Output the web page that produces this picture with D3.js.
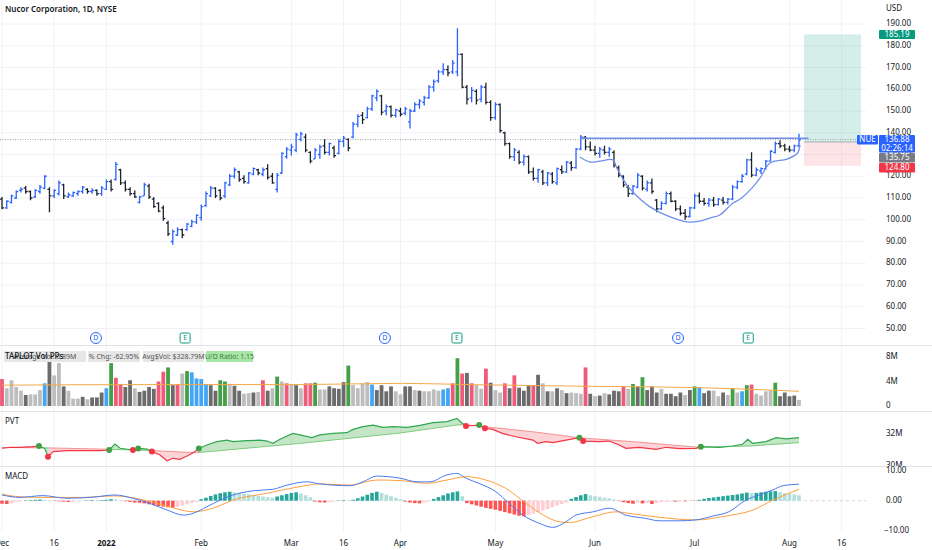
<!DOCTYPE html>
<html>
<head>
<meta charset="utf-8">
<script src="https://cdn.jsdelivr.net/npm/d3@7"></script>
<style>
body { margin: 0; background: #fff; }
text { font-family: "Noto Sans", sans-serif; fill: #131722; }
</style>
</head>
<body>
<svg id="chart" width="932" height="550"></svg>
<script>
// daily OHLC, Dec 1 2021 .. Aug 3 2022 (trading days)
const openP = [109.5,105.5,108,110,113.5,114.5,113,110.5,113,114.5, 114,111,112,116,110.5,111,112,113,114,113,
  113.5,112,114,117.5,118.5,123,117,114,112,108, 111,115.5,109.5,107.5,105.5,98.5,90,93,95.5,95.5,
  97,99,101,106.5,111,114.5,113.5,111,116,120, 122,119,117,121,123,121,123.5,120,114,121.5,
  129,132,132,137,138,131,128,130,134,131, 133,130.5,136,137,138,144,148,147,151,156,
  157,150,152,148,150,149,145,150,153,154, 156,161,164,168,169,168,168,176,161,156,
  159,155.5,161,154,147,153,140,135,129,131, 126.5,129,122,119,122,117,121,117,123,122,
  126,124,132.5,138,133.5,132,130.5,132,131,131, 124,120,115,112,115,120,114,117,109,105,
  107.5,112,108.5,105,103,101.5,105.5,111,108.5,107.5, 109,107,109,108,109.5,115,117.5,121,127.5,120.5,
  122.5,123.5,127,131,135,134,132.5,132,134];
const highP = [110.5,109,111.5,113.5,115,115.5,113.5,114,116,120.5, 115,114,118,116.5,112.5,113,113.5,115.5,114.5,114.5,
  114,115.5,118.5,118.5,126.5,123.5,118,115,113.5,111, 117,116.5,110.5,108,106.5,99.5,95.5,96.5,96,98.5,
  100,102.5,107,113,115.5,115,114,117.5,121,124, 122.5,120.5,122,124,123.5,124,125.5,121.5,121.5,131,
  133.5,135,140,140.5,139.5,131.5,133,134.5,137,135.5, 134,137,138.5,137.5,145,148.5,149.5,152,157.5,160,
  157.5,153,152.5,151,151.5,152,151,154,155.5,157, 162,164.5,169,172,171,173.5,188,176.5,162,161,
  160,162,163,155,154,153.5,140.5,135.5,133,132, 130,129.5,124,123.5,123,122,122,124,125,127,
  127,133,139,138.5,136,134,133.5,134,133.5,132, 125,120.5,116,116,121.5,120.5,118,119,109.5,108.5,
  113,113,109,106.5,105,106,112,112.5,110,110, 110.5,110,110.5,110,116,118,121,128,131,124,
  124,127.5,132,136,136.5,135,134,134.5,139.5];
const lowP = [104.8,105,107.5,109.5,112.5,112,109,110,112,114, 103.5,110,111,109.5,110,110.5,111,112,112,112,
  111,111,113.7,113,118,116,113,111,110,107.5, 111,109.5,105.5,103.5,99.5,92.5,88.5,92.5,91.5,95,
  96.5,98,99.5,106,110.5,110,109,110,115.5,119, 117.5,116.5,116.5,120.5,120.5,120,118.5,116.5,112.5,121,
  128,129.5,131,136,131,126,128,128,130,129.5, 128.5,130,133.5,131.5,137.5,142.5,144,146.5,150,154.5,
  148,148,147,147,147.5,148,142,149.5,151,152.5, 155.5,159,163,166.5,166,167,166,160.5,153,154,
  153,154,153,145.5,146,140,134,128,127,125.5, 125,121,118,117,116,115.5,116.5,116,121,121.5,
  122.5,123.5,132,132,131.5,129.5,128.5,130,129,124, 119.5,115,110.5,111.5,114.5,113.5,113,112,103.5,104.5,
  107,108,104,102,100,101,105,107.5,106.5,106, 106,106.5,107,107,109,114,117,120.5,119.5,120,
  121,123,127,130.5,133,131.5,131,131,133.5];
const closeP = [105.5,108.5,111,113,114,113,110,113.5,115,120, 111,113.5,117,111,111.5,112.5,113,115,113,113.5,
  112,114.5,117.5,114,125.5,117,114,112,110.5,110.5, 116,110.5,106,104,100.5,93.5,94.5,95.5,93,98,
  99,102,106,112,114.5,111,110,117,120,123, 118.5,117.5,121.5,123.5,121.5,123,119.5,117,120.5,130.5,
  132.5,133.5,139,139.5,132,127,132,133.5,131,135, 129.5,136,137.5,133,144,147.5,146,151,157,159,
  149.5,152,148,150.5,148.5,151,150,153,154.5,156, 161,163.5,168,169,167.5,172,176,161,155.5,159.5,
  155,161,154,147,153,141,135,129,132,126.5, 129,122,119,123,117,121.5,117.5,123.5,122,126.5,
  124,132.5,138,133.5,132,130.5,132.5,131,132.5,125, 120.5,116,112,115.5,120.5,114.5,117,113,105,107.5,
  112,108.5,105,103,101.5,105.5,111,108.5,107.5,109, 107,109.5,108,109.5,115,117.5,120,127.5,120.5,123,
  123.5,127,131.5,135,134,132.5,132,134,136.88];

// volume in millions and TAPLOT colour class per bar
const volume = [4.4,2.9,4.2,3.1,2.5,1.8,1.9,1.9,2.6,3.7, 8.0,5.0,7.0,3.2,2.5,1.2,1.2,1.5,1.1,1.4,
  1.4,2.2,2.9,7.0,4.6,3.6,3.1,4.2,2.9,2.3, 2.5,3.1,2.8,4.0,5.6,6.3,3.4,3.6,5.3,5.7,
  5.5,4.5,4.4,3.6,3.4,2.5,4.2,4.0,3.6,3.3, 2.5,2.0,2.1,2.2,2.3,4.2,2.5,2.9,4.8,4.0,
  3.7,3.6,3.4,2.9,3.7,3.7,3.8,2.7,2.7,3.2, 2.9,2.8,3.9,6.6,3.4,2.9,3.7,3.9,3.5,2.6,
  3.4,2.4,3.2,2.4,1.9,3.2,3.2,2.6,2.5,2.4, 2.4,2.7,2.5,2.7,2.9,3.7,7.8,5.3,5.4,3.7,
  3.4,2.8,6.1,3.8,2.6,2.2,3.7,2.9,5.0,3.0, 2.5,3.4,3.4,5.1,3.7,2.4,2.4,2.9,2.6,2.1,
  2.2,2.1,2.0,6.3,2.0,1.6,1.7,2.1,1.9,2.5, 2.4,3.2,2.8,3.6,3.2,4.7,2.6,3.2,2.2,2.8,
  2.0,2.0,1.6,2.2,1.8,2.6,3.2,3.0,2.1,2.5, 2.5,1.6,2.2,1.8,2.9,2.2,2.4,3.4,3.5,2.0,
  1.7,2.4,2.5,3.8,1.6,2.2,1.6,1.7,1.0];
const volClass = "rlllldlllb" + "dlldllldld" + "ddbgrrddld" + "dddrrgdrlg" + "bbbbddggld" + "dlldlrdlgl" + "rld" +
  "lrrglldddd" + "gllllbdddd" + "llddldllll" + "bbrgr" +
  "drllrdllrd" + "rdddrdldld" + "ldlllrdldl" + "dddrlgdgdd" + "dlddddldgb" + "ddlldlglbg" + "rllllgdddd" + "l";
const volAvgIdx = [0, 30, 63, 84, 98, 126, 147, 168];
const volAvgVal = [3.4, 3.5, 3.5, 3.7, 3.5, 3.2, 3.0, 2.4];

// PVT (millions) and its signal, read at points along the line
const pvtIdx = [0,1.7,3.8,6.5,7.8,9,9.7,10.8,13.7,17,20.7,22.6,23.8,24.9,27.6,28.7,30.6,31.6,33.3,34.8,
  36,37.5,39,40.3,41.5,43.2,45.3,47.4,48.7,51.6,54.4,55.9,57.1,58.6,61.3,62.8,65.3,67,69.8,72.7,
  74,76.1,78.2,80.3,82.4,85.4,88.1,90.9,93.8,95.9,97,97.8,100.6,101.8,103.4,105.5,108.3,111.9,112.9,114.7,
  116.1,118.9,121.7,122.5,125.9,128,130.1,131.5,134.3,137.9,140,142.8,146.3,147.3,151.2,154,156.1,157.2,158.2,161,
  163.2,165.3,168];
const pvtVal = [31.11,31.17,31.17,31.21,31.25,31.1,30.58,30.9,30.96,30.96,30.96,31.0,31.37,31.11,31.0,31.1,31.06,30.9,30.69,30.33,
  30.48,30.42,30.63,30.83,31.1,31.31,31.52,31.62,31.52,31.58,31.62,31.56,31.42,31.67,32.04,31.94,31.77,31.94,32.04,32.08,
  32.29,32.46,32.56,32.42,32.46,32.42,32.54,32.71,32.77,32.98,32.67,32.5,32.56,32.36,32.29,32.04,31.83,31.62,31.42,31.52,
  31.46,31.62,31.77,31.56,31.52,31.56,31.31,31.1,31.17,31.04,31.17,31.08,31.1,31.21,31.17,31.25,31.36,31.67,31.42,31.52,
  31.77,31.69,31.77];
const pvtSigIdx = [0,10.1,20.7,31.2,41.1,62.8,83.9,95.9,97.8,111.9,121.6,133,146.9,157.7,168];
const pvtSigVal = [31.16,31.13,31.06,30.97,30.83,31.41,32.06,32.56,32.58,32.14,31.77,31.52,31.17,31.25,31.46];
const pvtDotIdx = [7.8,9.7,22.6,27.6,28.7,31.6,41.5,97.8,100.6,101.8,121.7,122.5,147.3];
const pvtDotCol = ["g","r","g","r","g","r","g","r","g","r","g","r","g"];

// MACD
const macdIdx = [0,3.8,8.6,13.7,19.2,23.8,27.6,31.2,34.8,38.2,40.3,43.2,46,48.7,52.9,57.1,60.1,64.3,67,73.4,
  76.1,79,83.9,87.5,90.2,93.8,95.9,97.8,100.5,104.1,106.9,109.8,113.2,116.1,118.9,121,124.6,128,131.5,135.7,
  138.5,142.7,146.3,149.9,153.2,156.8,159.6,162.5,164.6,168];
const macdVal = [1.9,1.1,1.7,0.8,1.2,1.9,0.8,-0.9,-3.1,-4.8,-4.2,-2.0,0.2,1.9,3.3,3.8,5.2,6.3,5.6,5.0,
  6.3,8.2,7.5,6.3,6.3,8.6,9.1,7.5,5.8,3.0,-0.9,-4.8,-7.5,-8.9,-7.0,-4.8,-3.7,-2.5,-4.8,-5.9,
  -6.7,-6.7,-6.4,-5.1,-3.7,0.2,1.9,3.6,5.0,5.5];
const signalIdx = [0,3.8,10.1,17.1,23.8,29.1,34.8,40.3,44.5,48.7,55.9,62.8,67,73.4,79,83.9,89.6,93.8,97.8,102,
  106.2,110.5,114.1,117.4,119.5,124.6,129.4,133,138.5,146.3,152.6,158.3,162.5,168];
const signalVal = [2.2,1.3,1.1,1.1,1.6,0.5,-1.8,-3.7,-2.5,0.2,2.5,4.7,5.6,5.2,6.9,6.7,5.8,6.9,8.0,6.9,
  4.1,-0.9,-4.8,-7.0,-7.3,-5.3,-3.7,-4.4,-5.5,-6.4,-5.1,-3.1,0.2,3.8];
const macdHist = [-1.0,-1.1,-0.9,-0.4,-0.2,0.1,0.2,0.3,0.4,0.3, 0.1,-0.1,-0.2,-0.3,-0.4,-0.3,-0.2,-0.1,0.1,0.2,
  0.1,0.2,0.3,0.5,0.4,0.2,-0.2,-0.4,-0.6,-0.7, -0.9,-1.2,-1.5,-1.8,-2.0,-2.2,-2.3,-2.0,-1.6,-1.2,
  -0.8,-0.4,0.5,1.0,1.6,2.1,2.5,2.8,3.0,2.8, 2.6,2.3,2.1,1.9,1.6,1.4,1.2,1.0,1.4,1.8,
  2.2,2.6,2.8,2.4,1.8,1.2,-0.3,-0.5,-0.6,-0.5, -0.3,0.1,0.2,0.1,0.3,0.8,1.4,2.0,2.6,3.0,
  2.6,2.0,1.5,1.0,0.5,-0.3,-0.6,-0.8,-0.9,-0.6, -0.3,0.6,1.2,1.8,2.4,2.8,3.1,1.5,-0.8,-1.2,
  -1.6,-2.0,-2.4,-2.7,-3.0,-3.4,-3.8,-4.2,-4.6,-5.0, -5.2,-4.8,-4.3,-3.8,-3.3,-2.8,-2.2,-1.6,-1.1,-0.6,
  0.6,1.2,1.8,2.2,1.8,1.5,1.3,1.0,0.8,0.4, -0.1,-0.5,-0.8,-1.0,-0.6,-0.9,-0.7,-1.1,-0.8,-0.5,
  -0.4,-0.3,-0.3,-0.2,-0.2,-0.1,-0.1,0.3,0.6,0.9, 1.1,1.3,1.5,1.7,1.9,2.1,2.4,2.7,2.5,2.6,
  2.8,3.0,3.1,3.2,2.8,2.5,2.3,2.1,1.8];

// drawings
const cupIdx = [121.8,124,126.05,128.8,129.6,131.7,134.5,136.6,139.8,144.4,147.1,149.2,151.3,154.1,155.6,158.3,159.8,161.9,165.5,167.7,168.2];
const cupPrice = [128.85,126.55,127.0,127.5,123.8,116.0,109.5,105.9,102.2,99.0,99.4,100.8,102.2,107.7,109.5,115.1,119.2,126.1,127.9,130.7,134.4];
const rimIdx = [121.8, 170];
const rimPrice = [137.5, 137.5];
const posIdx = [169.05, 181.07];
const targetPrice = 185.19, entryPrice = 135.75, stopPrice = 124.80, lastPrice = 136.88;
const divIdx = [19.8, 80.7, 142.5];
const earnIdx = [38.6, 95.9, 157.3];

// axes
const xTickIdx = [0, 11, 22, 42, 61, 72, 84, 104, 125, 146, 166, 177];
const xTickLabels = ["Dec","16","2022","Feb","Mar","16","Apr","May","Jun","Jul","Aug","16"];
const priceTicks = [190,180,170,160,150,140,130,120,110,100,90,80,70,60,50];
const volTicks = [8, 4, 0], volTickLabels = ["8M","4M","0"];
const pvtTicks = [32, 30], pvtTickLabels = ["32M","30M"];
const macdTicks = [10, 0, -10], macdTickLabels = ["10.00","0.00","\u221210.00"];

const svg = d3.select("#chart");
const plotR = 866, axisX = 886;

let x = d3.scaleLinear().domain([0, 168]).range([2, 799]);
let yP = d3.scaleLinear().domain([50, 190]).range([328.5, 24]);
let yV = d3.scaleLinear().domain([0, 8]).range([406, 357]);
let yPv = d3.scaleLinear().domain([30, 32]).range([466, 434]);
let yM = d3.scaleLinear().domain([-10, 10]).range([530.7, 470.7]);

const defs = svg.append("defs");
defs.append("clipPath").attr("id", "clipPvt").append("rect")
    .attr("x", 0).attr("y", 412).attr("width", 932).attr("height", 54);

// grid
let grid = svg.append("g");
grid.selectAll(".vg").data(xTickIdx).enter().append("line")
    .attr("x1", d => x(d)).attr("x2", d => x(d))
    .attr("y1", 0).attr("y2", 532)
    .attr("stroke", "#f0f2f6");
grid.selectAll(".hg").data(priceTicks).enter().append("line")
    .attr("x1", 0).attr("x2", plotR)
    .attr("y1", d => yP(d)).attr("y2", d => yP(d))
    .attr("stroke", "#f0f2f6");

// pane separators
svg.selectAll(".sep").data([345.5, 411.5, 466.5]).enter().append("line")
    .attr("x1", 0).attr("x2", 932).attr("y1", d => d).attr("y2", d => d)
    .attr("stroke", "#e0e3eb");

// ---------- main pane ----------
let main = svg.append("g");

// long position box
main.append("rect")
    .attr("x", x(posIdx[0])).attr("width", x(posIdx[1]) - x(posIdx[0]))
    .attr("y", yP(targetPrice)).attr("height", yP(entryPrice) - yP(targetPrice))
    .attr("fill", "rgba(8,153,129,0.17)");
main.append("rect")
    .attr("x", x(posIdx[0])).attr("width", x(posIdx[1]) - x(posIdx[0]))
    .attr("y", yP(entryPrice)).attr("height", yP(stopPrice) - yP(entryPrice))
    .attr("fill", "rgba(242,54,69,0.13)");
main.append("line")
    .attr("x1", x(posIdx[0])).attr("x2", x(posIdx[1]))
    .attr("y1", yP(entryPrice)).attr("y2", yP(entryPrice))
    .attr("stroke", "#9598a1").attr("stroke-width", 0.8);

// last price dotted line
main.append("line")
    .attr("x1", 0).attr("x2", plotR)
    .attr("y1", yP(lastPrice)).attr("y2", yP(lastPrice))
    .attr("stroke", "#8a8d96").attr("stroke-width", 0.8)
    .attr("stroke-dasharray", "1,1.5");

// OHLC bars
let ohlc = closeP.map((c, i) => ({i: i, o: openP[i], h: highP[i], l: lowP[i], c: c}));
main.selectAll(".bar").data(ohlc).enter().append("path")
    .attr("d", d => {
        let cx = x(d.i);
        return `M${cx},${yP(d.h)}V${yP(d.l)}M${cx - 2},${yP(d.o)}H${cx}M${cx},${yP(d.c)}H${cx + 2}`;
    })
    .attr("fill", "none")
    .attr("stroke", d => d.c >= d.o ? "#2962ff" : "#1e222d")
    .attr("stroke-width", 1.3);

// cup & rim drawing
let cupLine = d3.line().x(d => x(d[0])).y(d => yP(d[1])).curve(d3.curveCatmullRom.alpha(0.5));
main.append("path")
    .attr("d", cupLine(cupIdx.map((d, k) => [d, cupPrice[k]])))
    .attr("fill", "none").attr("stroke", "#6f8fe8").attr("stroke-width", 1.3);
main.append("line")
    .attr("x1", x(rimIdx[0])).attr("x2", x(rimIdx[1]))
    .attr("y1", yP(rimPrice[0])).attr("y2", yP(rimPrice[1]))
    .attr("stroke", "#6f8fe8").attr("stroke-width", 1.6);

// dividend / earnings markers
let ev = main.append("g");
ev.selectAll(".div").data(divIdx).enter().append("circle")
    .attr("cx", d => x(d)).attr("cy", 338).attr("r", 5.5)
    .attr("fill", "#fff").attr("stroke", "#2962ff").attr("stroke-width", 1);
ev.selectAll(".divt").data(divIdx).enter().append("text")
    .attr("x", d => x(d)).attr("y", 338.5).attr("text-anchor", "middle")
    .attr("dominant-baseline", "middle").attr("font-size", 7).style("fill", "#2962ff")
    .text("D");
ev.selectAll(".earn").data(earnIdx).enter().append("rect")
    .attr("x", d => x(d) - 5).attr("y", 333).attr("width", 10).attr("height", 10).attr("rx", 1.5)
    .attr("fill", "#fff").attr("stroke", "#089981").attr("stroke-width", 1);
ev.selectAll(".earnt").data(earnIdx).enter().append("text")
    .attr("x", d => x(d)).attr("y", 338.5).attr("text-anchor", "middle")
    .attr("dominant-baseline", "middle").attr("font-size", 7).style("fill", "#089981")
    .text("E");

svg.append("text").attr("x", 5).attr("y", 12).attr("font-size", 8).attr("font-weight", 600)
    .text("Nucor Corporation, 1D, NYSE");

// ---------- volume pane ----------
let volColor = {r: "#ef5a78", l: "#bdbdbd", d: "#6b6b6b", g: "#43a047", b: "#42a5f5"};
let vol = svg.append("g");
vol.selectAll(".v").data(volume).enter().append("rect")
    .attr("x", (d, i) => x(i) - 1.9).attr("width", 3.8)
    .attr("y", d => yV(d)).attr("height", d => yV(0) - yV(d))
    .attr("fill", (d, i) => volColor[volClass[i]]);
vol.append("path")
    .attr("d", d3.line().x(d => x(d[0])).y(d => yV(d[1])).curve(d3.curveMonotoneX)(volAvgIdx.map((d, k) => [d, volAvgVal[k]])))
    .attr("fill", "none").attr("stroke", "#f5a94a").attr("stroke-width", 1);

let stats = [
    {x: 4, w: 82, t: "Average Vol: 0.89M", bg: "#e6e6e6", c: "#555"},
    {x: 88, w: 52, t: "% Chg: -62.95%", bg: "#e6e6e6", c: "#555"},
    {x: 143, w: 61, t: "Avg$Vol: $328.79M", bg: "#e6e6e6", c: "#555"},
    {x: 206, w: 47, t: "U/D Ratio: 1.15", bg: "#a8e6a8", c: "#3a7d3a"}
];
vol.selectAll(".sb").data(stats).enter().append("rect")
    .attr("x", d => d.x).attr("y", 351).attr("width", d => d.w).attr("height", 11)
    .attr("fill", d => d.bg);
vol.selectAll(".st").data(stats).enter().append("text")
    .attr("x", d => d.x + d.w / 2).attr("y", 359).attr("text-anchor", "middle")
    .attr("font-size", 7).style("fill", d => d.c).text(d => d.t);
vol.append("text").attr("x", 5).attr("y", 359).attr("font-size", 8).attr("font-weight", 500)
    .text("TAPLOT Vol PPs");

// ---------- PVT pane ----------
let pvt = svg.append("g").attr("clip-path", "url(#clipPvt)");
let pvtPts = pvtIdx.map((d, k) => [d, pvtVal[k]]);
let sigPts = pvtSigIdx.map((d, k) => [d, pvtSigVal[k]]);
let pLine = d3.line().x(d => x(d[0])).y(d => yPv(d[1]));
let polyPath = pLine(pvtPts.concat(sigPts.slice().reverse())) + "Z";

let segs = [], segStart = 0, segCol = "r";
pvtDotIdx.forEach((d, k) => {
    segs.push([segStart, d, segCol]);
    segStart = d; segCol = pvtDotCol[k];
});
segs.push([segStart, 168.5, segCol]);

segs.forEach((s, k) => {
    let id = "pvtSeg" + k;
    defs.append("clipPath").attr("id", id).append("rect")
        .attr("x", x(s[0])).attr("width", Math.max(0.5, x(s[1]) - x(s[0])))
        .attr("y", 412).attr("height", 54);
    let g = pvt.append("g").attr("clip-path", `url(#${id})`);
    g.append("path").attr("d", polyPath)
        .attr("fill", s[2] == "g" ? "rgba(76,175,80,0.32)" : "rgba(242,54,69,0.22)");
    g.append("path").attr("d", pLine(sigPts))
        .attr("fill", "none").attr("stroke", s[2] == "g" ? "#66c166" : "#f07c7c").attr("stroke-width", 0.8);
    g.append("path").attr("d", pLine(pvtPts))
        .attr("fill", "none").attr("stroke", s[2] == "g" ? "#2fa84f" : "#f23645").attr("stroke-width", 1.2);
});
pvt.selectAll(".pd").data(pvtDotIdx).enter().append("circle")
    .attr("cx", d => x(d))
    .attr("cy", d => yPv(pvtVal[pvtIdx.indexOf(d)]))
    .attr("r", 3)
    .attr("fill", (d, k) => pvtDotCol[k] == "g" ? "#43a047" : "#f23645");
svg.append("text").attr("x", 5).attr("y", 424).attr("font-size", 8).text("PVT");

// ---------- MACD pane ----------
let macd = svg.append("g");
macd.append("line").attr("x1", 0).attr("x2", plotR).attr("y1", yM(0)).attr("y2", yM(0))
    .attr("stroke", "#c9ccd3").attr("stroke-width", 0.8).attr("stroke-dasharray", "3,3");
macd.selectAll(".h").data(macdHist).enter().append("rect")
    .attr("x", (d, i) => x(i) - 1.8).attr("width", 3.6)
    .attr("y", d => Math.min(yM(d), yM(0))).attr("height", d => Math.abs(yM(d) - yM(0)))
    .attr("fill", (d, i) => {
        let prev = i > 0 ? macdHist[i - 1] : d;
        if (d >= 0) return d >= prev ? "#26a69a" : "#b2dfdb";
        return d <= prev ? "#ff5252" : "#ffcdd2";
    });
let mLine = d3.line().x(d => x(d[0])).y(d => yM(d[1])).curve(d3.curveMonotoneX);
macd.append("path").attr("d", mLine(signalIdx.map((d, k) => [d, signalVal[k]])))
    .attr("fill", "none").attr("stroke", "#ff9f40").attr("stroke-width", 1);
macd.append("path").attr("d", mLine(macdIdx.map((d, k) => [d, macdVal[k]])))
    .attr("fill", "none").attr("stroke", "#4a7cf0").attr("stroke-width", 1);
svg.append("text").attr("x", 5).attr("y", 479).attr("font-size", 8).text("MACD");

// ---------- axes ----------
let ax = svg.append("g").attr("font-size", 8);
ax.append("text").attr("x", axisX).attr("y", 11).attr("font-size", 8).text("USD");
ax.selectAll(".pt").data(priceTicks).enter().append("text")
    .attr("x", axisX).attr("y", d => yP(d)).attr("dominant-baseline", "middle")
    .attr("font-size", 8).text(d => d.toFixed(2));
ax.selectAll(".vt").data(volTicks).enter().append("text")
    .attr("x", axisX).attr("y", d => yV(d)).attr("dominant-baseline", "middle")
    .attr("font-size", 8).text((d, i) => volTickLabels[i]);
let pvAx = svg.append("g").attr("clip-path", "url(#clipPvt)");
pvAx.selectAll(".pvt").data(pvtTicks).enter().append("text")
    .attr("x", axisX).attr("y", d => yPv(d)).attr("dominant-baseline", "middle")
    .attr("font-size", 8).text((d, i) => pvtTickLabels[i]);
ax.selectAll(".mt").data(macdTicks).enter().append("text")
    .attr("x", (d, i) => i == 2 ? axisX - 2 : axisX).attr("y", d => yM(d)).attr("dominant-baseline", "middle")
    .attr("font-size", 8).text((d, i) => macdTickLabels[i]);
ax.selectAll(".xt").data(xTickIdx).enter().append("text")
    .attr("x", d => x(d)).attr("y", 546).attr("text-anchor", "middle")
    .attr("font-size", 8).attr("font-weight", (d, i) => xTickLabels[i] == "2022" ? 700 : 400)
    .text((d, i) => xTickLabels[i]);

// price tags on the scale
function tag(y, h, bg, lines, x0, w) {
    svg.append("rect").attr("x", x0).attr("y", y).attr("width", w).attr("height", h)
        .attr("rx", 1).attr("fill", bg);
    lines.forEach((t, k) => {
        svg.append("text").attr("x", x0 + w / 2).attr("y", y + 7.2 + k * 8.4)
            .attr("text-anchor", "middle").attr("font-size", 8).style("fill", "#fff").text(t);
    });
}
tag(yP(targetPrice) - 4.5, 9, "#089981", [targetPrice.toFixed(2)], 879, 36);
tag(yP(lastPrice) - 4.5, 9.5, "#2962ff", ["NUE"], 857, 21);
tag(yP(lastPrice) - 4.5, 17.5, "#2962ff", [lastPrice.toFixed(2), "02:26:14"], 879, 36);
tag(yP(lastPrice) + 13.5, 9.5, "#787b86", [entryPrice.toFixed(2)], 879, 36);
tag(yP(lastPrice) + 23.5, 9.5, "#f23645", [stopPrice.toFixed(2)], 879, 36);
</script>
</body>
</html>
